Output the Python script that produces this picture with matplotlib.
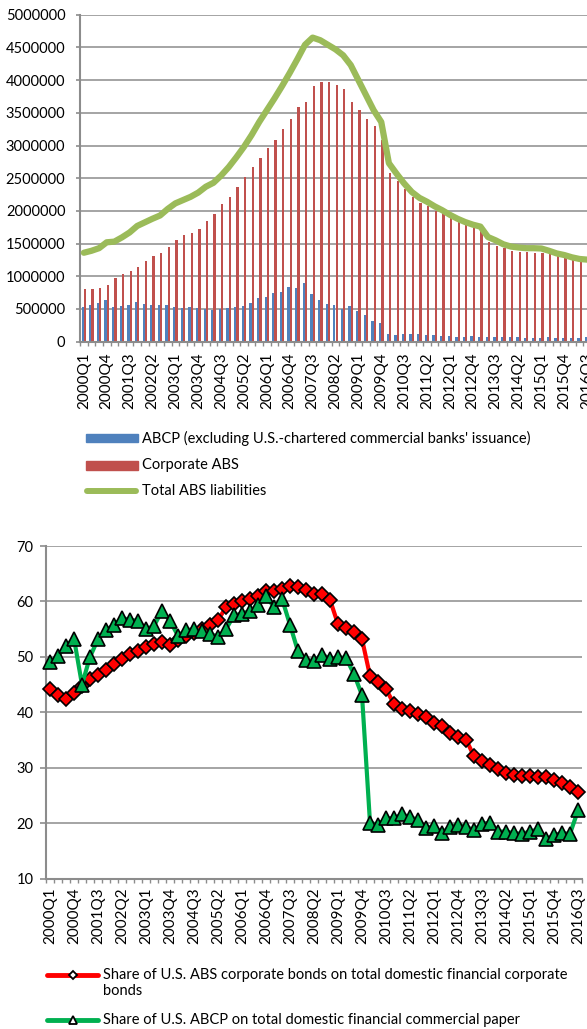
import matplotlib
matplotlib.use('Agg')
import matplotlib.pyplot as plt
from matplotlib.lines import Line2D
from matplotlib.patches import Rectangle
import numpy as np

plt.rcParams['font.family'] = ['Lato', 'DejaVu Sans']
plt.rcParams['font.size'] = 10

# quarterly categories 2000Q1 .. 2016Q3
quarters = ['%dQ%d' % (y, q) for y in range(2000, 2017) for q in range(1, 5)][:67]

# top panel (millions of USD)
abcp = [535000, 560000, 590000, 637000, 530000, 540000, 560000, 600000, 576000, 555000,
        555000, 560000, 530000, 515000, 525000, 520000, 500000, 490000, 495000, 515000,
        525000, 550000, 586000, 663000, 683000, 739000, 754000, 830000, 826000, 897000,
        724000, 637000, 580000, 556000, 500000, 550000, 474000, 413000, 320000, 285000,
        117000, 100000, 112000, 112000, 117000, 107000, 100000, 87000, 87000, 76000,
        76000, 87000, 76000, 66000, 70000, 70000, 66000, 66000, 60000, 60000,
        56000, 66000, 50000, 50000, 60000, 60000, 76000]
corp_abs = [810000, 810000, 820000, 860000, 980000, 1035000, 1075000, 1147000, 1228000, 1305000,
            1356000, 1442000, 1555000, 1626000, 1667000, 1728000, 1845000, 1960000, 2105000, 2207000,
            2360000, 2518000, 2666000, 2803000, 2960000, 3078000, 3247000, 3410000, 3583000, 3670000,
            3910000, 3970000, 3975000, 3920000, 3858000, 3660000, 3540000, 3410000, 3300000, 3080000,
            2580000, 2457000, 2340000, 2217000, 2120000, 2070000, 2003000, 1962000, 1906000, 1850000,
            1784000, 1740000, 1690000, 1520000, 1470000, 1430000, 1390000, 1366000, 1366000, 1360000,
            1360000, 1340000, 1310000, 1284000, 1254000, 1218000, 1200000]
total_abs = [1360000, 1390000, 1430000, 1520000, 1530000, 1595000, 1670000, 1770000, 1825000, 1880000,
             1930000, 2030000, 2115000, 2165000, 2215000, 2280000, 2370000, 2430000, 2540000, 2670000,
             2820000, 2980000, 3160000, 3360000, 3540000, 3720000, 3910000, 4110000, 4320000, 4540000,
             4650000, 4610000, 4540000, 4470000, 4380000, 4230000, 4000000, 3770000, 3540000, 3360000,
             2730000, 2570000, 2420000, 2290000, 2200000, 2140000, 2070000, 2010000, 1940000, 1880000,
             1830000, 1790000, 1760000, 1600000, 1550000, 1490000, 1455000, 1440000, 1430000, 1430000,
             1425000, 1390000, 1350000, 1325000, 1290000, 1265000, 1255000]

# bottom panel (percent)
share_bonds = [44.2, 43.1, 42.4, 43.5, 44.8, 46.0, 46.7, 47.6, 48.7, 49.6,
               50.5, 51.1, 51.8, 52.4, 52.6, 52.2, 53.0, 53.8, 54.4, 55.0,
               55.7, 56.6, 59.0, 59.5, 60.0, 60.4, 61.0, 61.8, 61.8, 62.3,
               62.7, 62.6, 62.1, 61.4, 61.4, 60.3, 55.9, 55.3, 54.5, 53.2,
               46.6, 45.5, 44.2, 41.5, 40.6, 40.2, 39.7, 39.2, 38.0, 37.6,
               36.2, 35.6, 35.1, 32.1, 31.3, 30.5, 29.7, 29.0, 28.7, 28.6,
               28.5, 28.3, 28.3, 27.8, 27.2, 26.6, 25.7]
share_abcp = [49.0, 50.2, 52.0, 53.3, 45.0, 50.0, 53.2, 54.8, 55.8, 57.0,
              56.7, 56.5, 55.0, 55.6, 58.3, 56.5, 53.8, 54.8, 55.0, 54.6,
              54.2, 53.6, 55.0, 57.5, 57.8, 58.3, 59.3, 61.0, 59.0, 60.5,
              55.8, 51.0, 49.4, 49.3, 50.4, 49.7, 49.9, 49.8, 46.9, 43.1,
              20.1, 19.7, 20.9, 20.9, 21.6, 21.1, 20.6, 19.1, 19.5, 18.2,
              19.4, 19.7, 19.4, 18.7, 19.9, 20.1, 18.5, 18.5, 18.2, 18.1,
              18.5, 18.9, 17.1, 17.9, 18.2, 18.1, 22.3]

labels_top = ['ABCP (excluding U.S.-chartered commercial banks\' issuance)',
              'Corporate ABS', 'Total ABS liabilities']
labels_bottom = ['Share of U.S. ABS corporate bonds on total domestic financial corporate\nbonds',
                 'Share of U.S. ABCP on total domestic financial commercial paper']

W, H = 587, 1029
GRID = '#8C8C8C'
fig = plt.figure(figsize=(W / 100, H / 100), dpi=100)


def fx(px):
    return px / W


def fy(py):
    return 1 - py / H


x = np.arange(len(quarters))


def style_axis(ax, ypad, xpad, ylen):
    for s in ['top', 'right']:
        ax.spines[s].set_visible(False)
    for s in ['left', 'bottom']:
        ax.spines[s].set_color(GRID)
        ax.spines[s].set_linewidth(1.5)
    ax.grid(axis='y', color=GRID, lw=1.1)
    ax.set_axisbelow(True)
    ax.set_xlim(-0.5, len(quarters) - 0.5)
    ax.set_xticks(x[::3])
    ax.set_xticklabels(quarters[::3], rotation=90)
    ax.set_xticks(np.arange(-0.5, len(quarters), 1), minor=True)
    ax.tick_params(axis='x', which='major', length=0, pad=xpad, labelsize=11)
    ax.tick_params(axis='x', which='minor', length=3, width=1, color=GRID)
    ax.tick_params(axis='y', length=ylen, width=1.2, color=GRID, pad=ypad, labelsize=10.5)


# ---- top panel
ax1 = fig.add_axes([fx(80), fy(341.7), fx(591 - 80), (341.7 - 14.7) / H])
ax1.bar(x - 0.15, abcp, width=0.3, color='#4F81BD', zorder=2)
ax1.bar(x + 0.15, corp_abs, width=0.3, color='#C0504D', zorder=2)
ax1.plot(x, total_abs, color='#9BBB59', lw=4.5, solid_joinstyle='round',
         solid_capstyle='round', zorder=3)
ax1.set_ylim(0, 5000000)
ax1.set_yticks(np.arange(0, 5000001, 500000))
ax1.yaxis.set_major_formatter(lambda v, p: '%d' % v)
style_axis(ax1, ypad=7.5, xpad=7.5, ylen=3)

# ---- bottom panel
ax2 = fig.add_axes([fx(46), fy(878.7), fx(582 - 46), (878.7 - 546) / H])
ax2.plot(x, share_bonds, color='#FF0000', lw=3, marker='D', ms=7, mfc='#FF0000',
         mec='black', mew=1.2, zorder=3, clip_on=False)
ax2.plot(x, share_abcp, color='#00B050', lw=3, marker='^', ms=10, mfc='#00B050',
         mec='black', mew=1.2, zorder=4, clip_on=False)
ax2.set_ylim(10, 70)
ax2.set_yticks(np.arange(10, 71, 10))
style_axis(ax2, ypad=5, xpad=6, ylen=4)

# ---- legends, drawn by hand to keep the Excel layout
fig.add_artist(Rectangle((fx(86), fy(438) - 4.2 / H), fx(52), 8.4 / H,
                         transform=fig.transFigure, color='#4F81BD'))
fig.add_artist(Rectangle((fx(86), fy(465.5) - 4.2 / H), fx(52), 8.4 / H,
                         transform=fig.transFigure, color='#C0504D'))
fig.add_artist(Line2D([fx(87), fx(136)], [fy(491)] * 2, color='#9BBB59', lw=4.3,
                      solid_capstyle='round'))
for lab, py in zip(labels_top, [438, 465.5, 491]):
    fig.text(fx(142), fy(py), lab, ha='left', va='center', fontsize=10.5)

for py, col, mk in [(975, '#FF0000', 'D'), (1020, '#00B050', '^')]:
    fig.add_artist(Line2D([fx(47), fx(98)], [fy(py)] * 2, color=col, lw=3.5,
                          solid_capstyle='round'))
    fig.add_artist(Line2D([fx(73)], [fy(py)], marker=mk, ms=4.5 if mk == 'D' else 6,
                          mfc='white', mec='black', mew=1.3))
fig.text(fx(103), fy(975) + 7.5 / H, labels_bottom[0], ha='left', va='top',
         fontsize=10.5, linespacing=1.25)
fig.text(fx(103), fy(1020), labels_bottom[1], ha='left', va='center', fontsize=10.5)

fig.savefig('out.png', dpi=100)
